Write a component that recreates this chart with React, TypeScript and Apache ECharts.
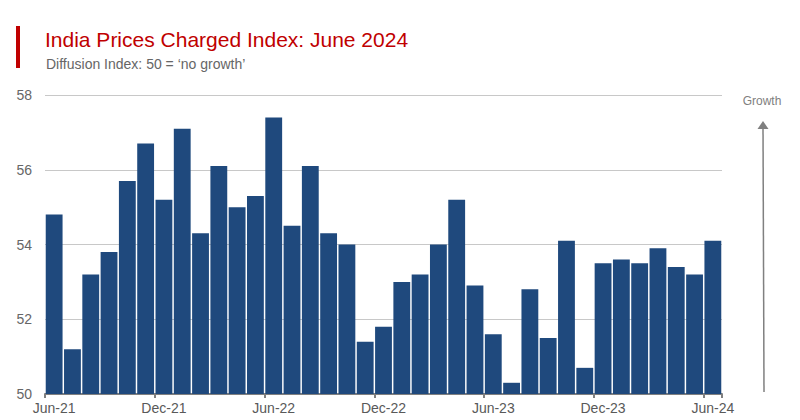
import React, { useEffect, useRef } from "react";
import * as echarts from "echarts";

const categories = [
  "Jun-21","Jul-21","Aug-21","Sep-21","Oct-21","Nov-21","Dec-21",
  "Jan-22","Feb-22","Mar-22","Apr-22","May-22","Jun-22","Jul-22","Aug-22","Sep-22","Oct-22","Nov-22","Dec-22",
  "Jan-23","Feb-23","Mar-23","Apr-23","May-23","Jun-23","Jul-23","Aug-23","Sep-23","Oct-23","Nov-23","Dec-23",
  "Jan-24","Feb-24","Mar-24","Apr-24","May-24","Jun-24",
];

const pricesCharged = [
  54.8, 51.2, 53.2, 53.8, 55.7, 56.7, 55.2,
  57.1, 54.3, 56.1, 55.0, 55.3, 57.4, 54.5, 56.1, 54.3, 54.0, 51.4, 51.8,
  53.0, 53.2, 54.0, 55.2, 52.9, 51.6, 50.3, 52.8, 51.5, 54.1, 50.7, 53.5,
  53.6, 53.5, 53.9, 53.4, 53.2, 54.1,
];

const yTicks = { min: 50, max: 58, interval: 2 };

const titleText = "India Prices Charged Index: June 2024";
const subtitleText = "Diffusion Index: 50 = \u2018no growth\u2019";
const growthText = "Growth";

export default function App() {
  const ref = useRef<HTMLDivElement>(null);
  useEffect(() => {
    if (!ref.current) return;
    const chart = echarts.init(ref.current, null, { renderer: "svg" });
    const font = "Liberation Sans, Arial, sans-serif";
    chart.setOption({
      animation: false,
      textStyle: { fontFamily: font },
      grid: { left: 45, right: 78, top: 95, bottom: 26, containLabel: false },
      xAxis: {
        type: "category",
        data: categories,
        boundaryGap: true,
        axisLine: { lineStyle: { color: "#808080", width: 2 } },
        axisTick: { show: true, interval: 5, length: 4, lineStyle: { color: "#808080", width: 2 } },
        axisLabel: { interval: 5, color: "#595959", fontSize: 14, margin: 7, fontFamily: font },
      },
      yAxis: {
        type: "value",
        min: yTicks.min,
        max: yTicks.max,
        interval: yTicks.interval,
        axisLine: { show: false },
        axisTick: { show: false },
        axisLabel: { color: "#666666", fontSize: 14, margin: 13, fontFamily: font },
        splitLine: { lineStyle: { color: "#c8c8c8", width: 1 } },
      },
      series: [
        {
          type: "bar",
          data: pricesCharged,
          barCategoryGap: "8%",
          itemStyle: { color: "#1f497d" },
        },
      ],
      graphic: [
        { type: "rect", shape: { x: 16, y: 26, width: 4, height: 42 }, style: { fill: "#c00000" } },
        {
          type: "text",
          x: 45,
          y: 29,
          style: { text: titleText, fill: "#c00000", fontSize: 21, fontFamily: font },
        },
        {
          type: "text",
          x: 46,
          y: 57,
          style: { text: subtitleText, fill: "#666666", fontSize: 14, fontFamily: font },
        },
        {
          type: "text",
          x: 762,
          y: 95,
          style: { text: growthText, fill: "#808080", fontSize: 12, fontFamily: font, align: "center" },
        },
        {
          type: "line",
          shape: { x1: 763, y1: 126, x2: 764, y2: 392 },
          style: { stroke: "#808080", lineWidth: 1.5 },
        },
        {
          type: "polygon",
          shape: { points: [[763, 121], [757.5, 129], [768.5, 129]] },
          style: { fill: "#808080" },
        },
      ],
    });
    return () => chart.dispose();
  }, []);
  return <div ref={ref} style={{ width: 800, height: 420, position: "absolute", left: 0, top: 0 }} />;
}
